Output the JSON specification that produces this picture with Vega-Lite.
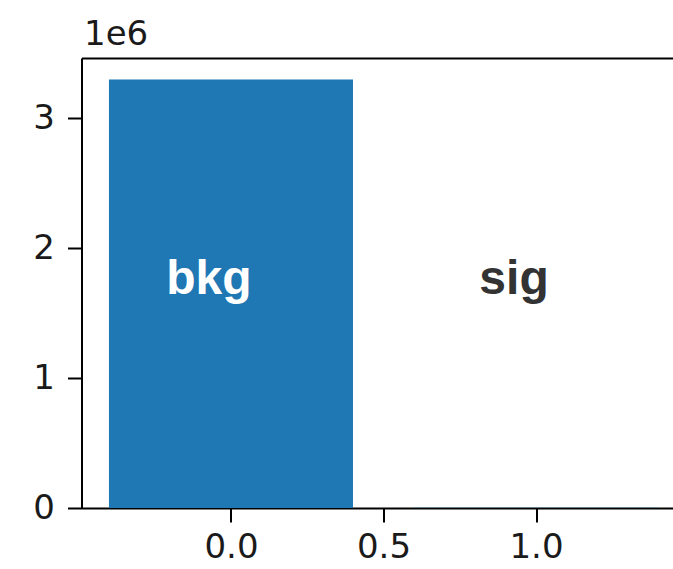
{
  "$schema": "https://vega.github.io/schema/vega-lite/v6.json",
  "width": 591,
  "height": 450,
  "autosize": {"type": "none"},
  "padding": {"left": 81.5, "top": 58, "right": 0.5, "bottom": 61},
  "background": "white",
  "config": {
    "view": {"stroke": null},
    "axis": {
      "domainColor": "black",
      "domainWidth": 2,
      "tickColor": "black",
      "tickWidth": 2,
      "tickSize": 14,
      "labelFont": "DejaVu Sans",
      "labelFontSize": 34,
      "labelColor": "#1a1a1a",
      "grid": false
    }
  },
  "data": {
    "values": [
      {"label": "bkg", "x": 0, "x0": -0.4, "x1": 0.4, "count": 3300000},
      {"label": "sig", "x": 1, "x0": 0.6, "x1": 1.4, "count": 1500}
    ]
  },
  "layer": [
    {
      "mark": {"type": "bar", "color": "#1f77b4", "clip": true},
      "encoding": {
        "x": {
          "field": "x0",
          "type": "quantitative",
          "scale": {"domain": [-0.49, 1.4474], "nice": false, "zero": false},
          "axis": {
            "orient": "bottom",
            "values": [0, 0.5, 1.0],
            "format": ".1f",
            "title": null,
            "labelPadding": 8,
            "labelFlush": false
          }
        },
        "x2": {"field": "x1"},
        "y": {
          "field": "count",
          "type": "quantitative",
          "scale": {"domain": [0, 3465000], "nice": false},
          "axis": {
            "values": [0, 1000000, 2000000, 3000000],
            "labelExpr": "format(datum.value / 1000000, 'd')",
            "labelPadding": 13,
            "title": "1e6",
            "titleAngle": 0,
            "titleX": 2,
            "titleY": -14,
            "titleAlign": "left",
            "titleBaseline": "alphabetic",
            "titleFont": "DejaVu Sans",
            "titleFontSize": 34,
            "titleFontWeight": "normal",
            "titleColor": "#1a1a1a"
          }
        },
        "y2": {"datum": 0}
      }
    },
    {
      "mark": {
        "type": "text",
        "font": "Liberation Sans",
        "fontWeight": "bold",
        "fontSize": 48,
        "align": "center",
        "baseline": "alphabetic",
        "dx": -22
      },
      "encoding": {
        "x": {
          "field": "x",
          "type": "quantitative",
          "axis": {
            "orient": "top",
            "labels": false,
            "ticks": false,
            "title": null,
            "domain": true
          }
        },
        "y": {"datum": 1650000, "type": "quantitative"},
        "text": {"field": "label"},
        "color": {
          "field": "label",
          "type": "nominal",
          "scale": {"domain": ["bkg", "sig"], "range": ["#ffffff", "#333333"]},
          "legend": null
        }
      }
    }
  ],
  "resolve": {"axis": {"x": "independent"}}
}
